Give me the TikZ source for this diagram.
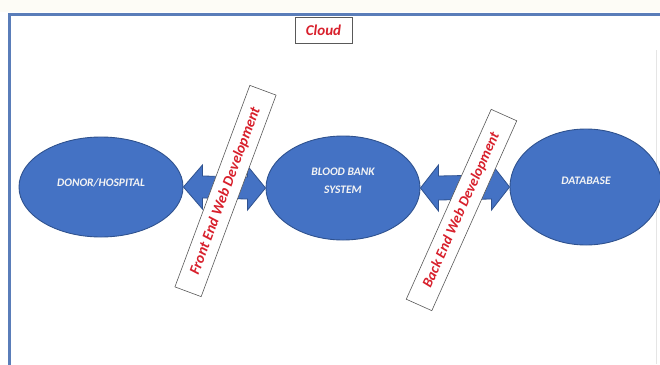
\documentclass[tikz,border=0pt]{standalone}
\usepackage{fontspec}
\setmainfont{Carlito}
\usetikzlibrary{shapes.geometric,calc}
\definecolor{fillblue}{HTML}{4472C4}
\definecolor{edgeblue}{HTML}{2F528F}
\definecolor{framecol}{HTML}{5A7DB9}
\definecolor{labelred}{HTML}{D8202C}
\definecolor{cream}{HTML}{FDFCF6}
\definecolor{blobtext}{HTML}{F4F4F4}
\begin{document}
\begin{tikzpicture}[x=1pt,y=-1pt,
  blob/.style={ellipse, draw=edgeblue, line width=0.9pt, fill=fillblue, inner sep=0pt},
  blobtext/.style={text=blobtext, font=\fontsize{11.5}{18}\selectfont\bfseries\itshape, align=center, inner sep=0pt},
  linkarrow/.style={draw=edgeblue, line width=0.8pt, fill=fillblue},
  tag/.style={draw=black!65, line width=0.6pt, fill=white, text=labelred, inner sep=0pt, minimum height=28}]
\fill[white] (0,0) rectangle (660,364);
\useasboundingbox (0,0) rectangle (660,364);
\fill[cream] (0,0) rectangle (660,12);
\draw[framecol, line width=3pt] (9,380) -- (9,14) -- (680,14);
\draw[gray!20, line width=1pt] (656,50) -- (656,364);

% ellipses
\node[blob, minimum width=164, minimum height=100] (donor) at (101,187) {};
\node[blob, minimum width=154, minimum height=104] (bbs) at (343,188) {};
\node[blob, minimum width=152, minimum height=116] (db) at (586,187) {};
\node[blobtext] (donortxt) at ($(donor.center)+(0,-4)$) {DONOR/HOSPITAL};
\node[blobtext] (bbstxt) at ($(bbs.center)+(0,-7)$) {BLOOD BANK\\SYSTEM};
\node[blobtext] (dbtxt) at ($(db.center)+(0,-6)$) {DATABASE};

% double arrows
\draw[linkarrow] (donor.east) -- ($(donor.east)+(19,-22)$) -- ($(donor.east)+(19,-11)$)
  -- ($(bbs.west)+(-18,-11)$) -- ($(bbs.west)+(-18,-22)$) -- (bbs.west)
  -- ($(bbs.west)+(-18,22)$) -- ($(bbs.west)+(-18,11)$) -- ($(donor.east)+(19,11)$)
  -- ($(donor.east)+(19,22)$) -- cycle;
\draw[linkarrow] (bbs.east) -- ($(bbs.east)+(18,-23)$) -- ($(bbs.east)+(18,-12)$)
  -- ($(db.west)+(-18,-12)$) -- ($(db.west)+(-18,-23)$) -- (db.west)
  -- ($(db.west)+(-18,23)$) -- ($(db.west)+(-18,12)$) -- ($(bbs.east)+(18,12)$)
  -- ($(bbs.east)+(18,23)$) -- cycle;

% rotated tags
\node[tag, rotate=69.6, minimum width=215, font=\fontsize{15}{17}\selectfont\bfseries\itshape] (front) at (225.5,191) {Front End Web Development};
\node[tag, rotate=65.9, minimum width=208, font=\fontsize{14.5}{17}\selectfont\bfseries\itshape] (back) at (461.5,210) {Back End Web Development};

% cloud
\node[draw=black!65, line width=0.6pt, text=labelred, inner sep=0pt, minimum width=57, minimum height=26, font=\fontsize{15}{17}\selectfont\bfseries\itshape] (cloud) at (323.5,30) {Cloud};
\end{tikzpicture}
\end{document}
